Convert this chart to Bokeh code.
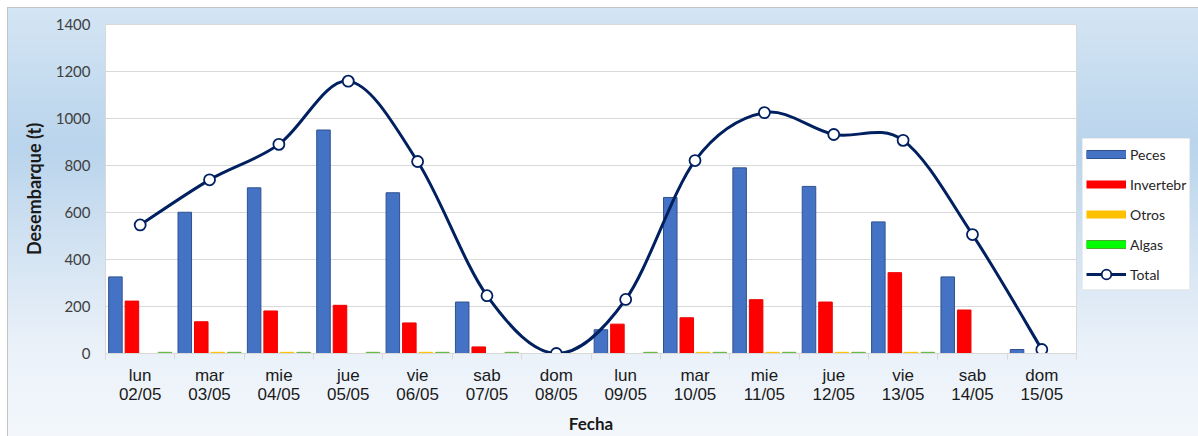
import numpy as np
from bokeh.plotting import figure
from bokeh.models import ColumnDataSource, Range1d, FixedTicker, Legend, LegendItem
from bokeh.transform import dodge
from bokeh.embed import file_html
from bokeh.resources import INLINE

# ---------------- data ----------------
days = ["lun", "mar", "mie", "jue", "vie", "sab", "dom",
        "lun", "mar", "mie", "jue", "vie", "sab", "dom"]
dates = ["02/05", "03/05", "04/05", "05/05", "06/05", "07/05", "08/05",
         "09/05", "10/05", "11/05", "12/05", "13/05", "14/05", "15/05"]
peces = [326, 601, 705, 951, 684, 219, 0, 101, 664, 790, 711, 560, 326, 17]
invertebrados = [223, 135, 181, 205, 130, 28, 0, 125, 152, 229, 219, 344, 185, 0]
otros = [0, 5, 5, 0, 5, 0, 0, 0, 5, 5, 5, 5, 0, 0]
algas = [5, 5, 5, 5, 5, 5, 0, 5, 5, 5, 5, 5, 0, 0]
total = [547, 739, 890, 1159, 817, 246, 0, 230, 821, 1025, 932, 907, 506, 17]
y_ticks = [0, 200, 400, 600, 800, 1000, 1200, 1400]

n = len(dates)
pos = np.arange(n) + 0.5
src = ColumnDataSource(dict(x=pos, peces=peces, inv=invertebrados,
                            otros=otros, algas=algas, total=total))

FONT = "Lato"
C_PECES, C_INV, C_OTROS, C_ALGAS, C_TOTAL = "#4472c4", "#ff0000", "#ffc000", "#00ff00", "#002060"

p = figure(frame_width=971, frame_height=329, output_backend="svg", toolbar_location=None,
           x_range=Range1d(0, n), y_range=Range1d(0, y_ticks[-1]),
           min_border_left=105, min_border_right=122, min_border_top=24,
           min_border_bottom=83)
grad = "linear-gradient(180deg, #d4e5f4 0%, #b9d4ec 32%, #d3e3f2 55%, #eaf1f9 78%, #f4f8fc 100%)"
p.styles = {"background": (
    "linear-gradient(#c4c4c4, #c4c4c4) 7px 7px / 1px 100% no-repeat, "
    "linear-gradient(#c4c4c4, #c4c4c4) 7px 7px / 100% 1px no-repeat, "
    + grad + " 8px 8px / 100% 100% no-repeat, white")}
p.border_fill_alpha = 0
p.background_fill_color = "white"
p.outline_line_color = "#d9d9d9"
p.outline_line_width = 1

# bars
bw = 0.195
p.vbar(x=dodge("x", -0.357), top="peces", width=bw, source=src,
       fill_color=C_PECES, line_color="#2f528f", line_width=1)
p.vbar(x=dodge("x", -0.119), top="inv", width=bw, source=src,
       fill_color=C_INV, line_color="#ee0000", line_width=1)
p.vbar(x=dodge("x", 0.119), top="otros", width=bw, source=src,
       fill_color=C_OTROS, line_color=C_OTROS, line_width=1)
p.vbar(x=dodge("x", 0.357), top="algas", width=bw, source=src,
       fill_color=C_ALGAS, line_color="#70ad47", line_width=1)

# smoothed total line (Catmull-Rom as cubic beziers through the data points)
xs = pos
ys = np.array(total, dtype=float)
x0s, y0s, x1s, y1s, cx0, cy0, cx1, cy1 = [], [], [], [], [], [], [], []
for i in range(n - 1):
    xa_, ya_ = (xs[i - 1], ys[i - 1]) if i > 0 else (xs[i], ys[i])
    xb, yb = xs[i], ys[i]
    xc, yc = xs[i + 1], ys[i + 1]
    xd, yd = (xs[i + 2], ys[i + 2]) if i + 2 < n else (xs[i + 1], ys[i + 1])
    x0s.append(xb); y0s.append(yb); x1s.append(xc); y1s.append(yc)
    cx0.append(xb + (xc - xa_) / 6); cy0.append(yb + (yc - ya_) / 6)
    cx1.append(xc - (xd - xb) / 6); cy1.append(yc - (yd - yb) / 6)
r_curve = p.bezier(x0=x0s, y0=y0s, x1=x1s, y1=y1s, cx0=cx0, cy0=cy0, cx1=cx1, cy1=cy1,
                   line_color=C_TOTAL, line_width=3)
r_pts = p.scatter(x="x", y="total", source=src, marker="circle", size=11,
                  fill_color="white", line_color=C_TOTAL, line_width=1.8)

# legend swatches (thick undrawn lines, so the legend rows can be tall enough
# for a full-size Total marker while the colour swatches stay thin)
nan2 = [np.nan, np.nan]
sw_peces = [p.line(x=nan2, y=nan2, line_color="#2f528f", line_width=9, line_cap="butt"),
            p.line(x=nan2, y=nan2, line_color=C_PECES, line_width=7, line_cap="butt")]
sw_inv = [p.line(x=nan2, y=nan2, line_color=C_INV, line_width=8, line_cap="butt")]
sw_otros = [p.line(x=nan2, y=nan2, line_color=C_OTROS, line_width=8, line_cap="butt")]
sw_algas = [p.line(x=nan2, y=nan2, line_color="#4ea72e", line_width=9, line_cap="butt"),
            p.line(x=nan2, y=nan2, line_color=C_ALGAS, line_width=7, line_cap="butt")]

# axes
p.xgrid.visible = False
p.ygrid.grid_line_color = "#d9d9d9"
p.ygrid.grid_line_width = 1

xa = p.xaxis[0]
xa.ticker = FixedTicker(ticks=list(pos), minor_ticks=list(np.arange(n + 1)))
xa.major_label_overrides = {float(v): f"{d}\n{t}" for v, d, t in zip(pos, days, dates)}
xa.major_tick_line_color = None
xa.major_tick_out = 0
xa.major_tick_in = 0
xa.minor_tick_line_color = "#d9d9d9"
xa.minor_tick_out = 6
xa.minor_tick_in = 0
xa.axis_line_color = "#d9d9d9"
xa.major_label_standoff = 6
xa.major_label_text_font = "Liberation Sans"
xa.major_label_text_font_size = "17px"
xa.major_label_text_line_height = 1.04
xa.major_label_text_color = "#1a1a1a"
xa.axis_label = "Fecha"
xa.axis_label_text_font = FONT
xa.axis_label_text_font_style = "bold"
xa.axis_label_text_font_size = "17px"
xa.axis_label_text_color = "#1a1a1a"
xa.axis_label_standoff = 6

ya = p.yaxis[0]
ya.ticker = FixedTicker(ticks=y_ticks)
ya.major_tick_line_color = None
ya.minor_tick_line_color = None
ya.major_tick_out = 0
ya.major_tick_in = 0
ya.axis_line_color = None
ya.major_label_standoff = 15
ya.major_label_text_font = FONT
ya.major_label_text_font_size = "15px"
ya.major_label_text_color = "#404040"
ya.axis_label = "Desembarque (t)"
ya.axis_label_text_font = FONT
ya.axis_label_text_font_style = "bold"
ya.axis_label_text_font_size = "18px"
ya.axis_label_text_color = "#1a1a1a"
ya.axis_label_standoff = 8

legend = Legend(items=[
    LegendItem(label="Peces", renderers=sw_peces),
    LegendItem(label="Invertebr", renderers=sw_inv),
    LegendItem(label="Otros", renderers=sw_otros),
    LegendItem(label="Algas", renderers=sw_algas),
    LegendItem(label="Total", renderers=[r_curve, r_pts]),
], location=(6, 63))
legend.padding = 3
legend.spacing = 6
legend.margin = 0
legend.glyph_width = 40
legend.glyph_height = 24
legend.label_height = 20
legend.label_standoff = 4
legend.label_text_font = FONT
legend.label_text_font_size = "14px"
legend.label_text_color = "#262626"
legend.border_line_color = "#d9d9d9"
legend.background_fill_color = "white"
legend.background_fill_alpha = 1
p.add_layout(legend, "right")

open("out.html", "w").write(file_html(p, INLINE))
